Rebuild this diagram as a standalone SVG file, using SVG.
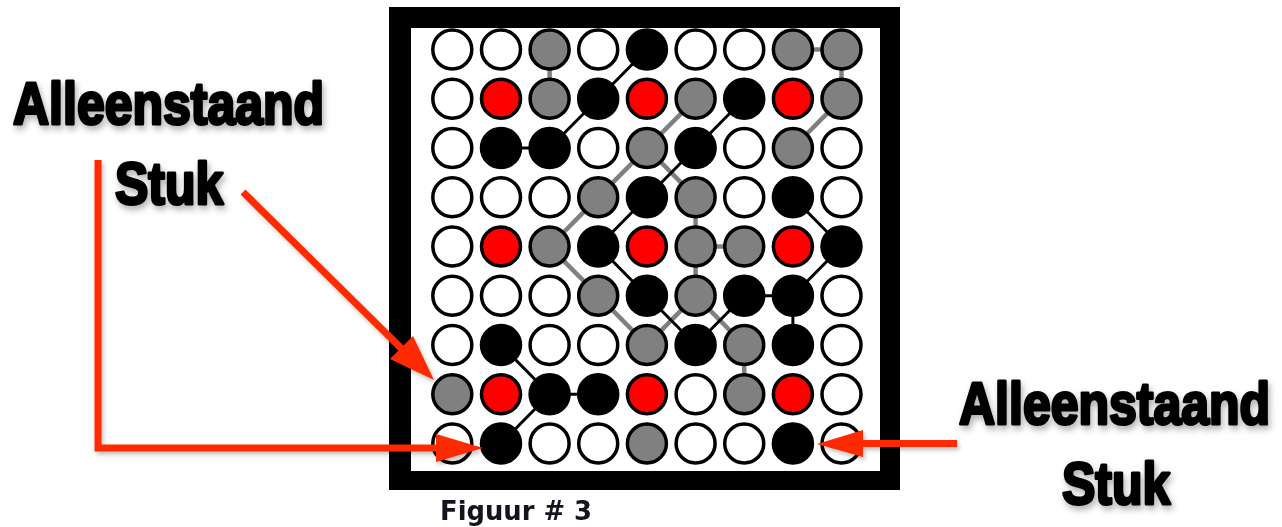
<svg xmlns="http://www.w3.org/2000/svg" width="1282" height="527" viewBox="0 0 1282 527">
<style>
circle{stroke:#000;stroke-width:3.5}
.w{fill:#fff}.r{fill:#ff0000}.g{fill:#808080}.b{fill:#000}
.cg line{stroke:#808080;stroke-width:4.5}
.cb line{stroke:#000;stroke-width:3}
.lbl{font-family:"Liberation Sans",Arial,sans-serif;font-weight:bold;font-size:50px;fill:#000;stroke:#000;stroke-width:2.6;stroke-linejoin:round}
.arr{stroke:#ff2a00;stroke-width:7;fill:none}
.head{fill:#ff2a00}
</style>
<defs>
<filter id="sh" x="-10%" y="-30%" width="120%" height="170%">
<feDropShadow dx="2" dy="4" stdDeviation="3" flood-color="#000" flood-opacity="0.3"/>
</filter>
<filter id="ash" x="-10%" y="-10%" width="130%" height="130%">
<feDropShadow dx="2" dy="3" stdDeviation="2" flood-color="#000" flood-opacity="0.25"/>
</filter>
</defs>
<rect width="1282" height="527" fill="#fff"/>
<g id="board">
<rect x="389" y="7" width="511" height="483" fill="#000"/>
<rect x="411" y="28" width="469" height="443" fill="#fff"/>
</g>
<g id="connectors">
<g class="cg">
<line x1="549.6" y1="49.5" x2="549.6" y2="98.8"/>
<line x1="792.9" y1="49.5" x2="841.5" y2="49.5"/>
<line x1="841.5" y1="49.5" x2="841.5" y2="98.8"/>
<line x1="841.5" y1="98.8" x2="792.9" y2="148"/>
<line x1="695.6" y1="98.8" x2="646.9" y2="148"/>
<line x1="646.9" y1="148" x2="598.2" y2="197.3"/>
<line x1="598.2" y1="197.3" x2="549.6" y2="246.5"/>
<line x1="646.9" y1="148" x2="695.6" y2="197.3"/>
<line x1="695.6" y1="197.3" x2="695.6" y2="246.5"/>
<line x1="695.6" y1="246.5" x2="744.2" y2="246.5"/>
<line x1="549.6" y1="246.5" x2="598.2" y2="295.7"/>
<line x1="598.2" y1="295.7" x2="646.9" y2="345"/>
<line x1="646.9" y1="345" x2="695.6" y2="295.7"/>
<line x1="695.6" y1="246.5" x2="695.6" y2="295.7"/>
<line x1="695.6" y1="295.7" x2="744.2" y2="345"/>
<line x1="744.2" y1="345" x2="744.2" y2="394.2"/>
</g>
<g class="cb">
<line x1="646.9" y1="49.5" x2="598.2" y2="98.8"/>
<line x1="598.2" y1="98.8" x2="549.6" y2="148"/>
<line x1="501" y1="148" x2="549.6" y2="148"/>
<line x1="744.2" y1="98.8" x2="695.6" y2="148"/>
<line x1="695.6" y1="148" x2="646.9" y2="197.3"/>
<line x1="646.9" y1="197.3" x2="598.2" y2="246.5"/>
<line x1="792.9" y1="197.3" x2="841.5" y2="246.5"/>
<line x1="598.2" y1="246.5" x2="646.9" y2="295.7"/>
<line x1="841.5" y1="246.5" x2="792.9" y2="295.7"/>
<line x1="646.9" y1="295.7" x2="695.6" y2="345"/>
<line x1="744.2" y1="295.7" x2="792.9" y2="295.7"/>
<line x1="744.2" y1="295.7" x2="695.6" y2="345"/>
<line x1="792.9" y1="295.7" x2="792.9" y2="345"/>
<line x1="501" y1="345" x2="549.6" y2="394.2"/>
<line x1="549.6" y1="394.2" x2="598.2" y2="394.2"/>
<line x1="549.6" y1="394.2" x2="501" y2="443.5"/>
</g>
</g>
<g id="pieces">
<g id="row0">
<circle id="n-0-0" class="w" cx="452.3" cy="49.5" r="19.5"/>
<circle id="n-0-1" class="w" cx="501" cy="49.5" r="19.5"/>
<circle id="n-0-2" class="g" cx="549.6" cy="49.5" r="19.5"/>
<circle id="n-0-3" class="w" cx="598.2" cy="49.5" r="19.5"/>
<circle id="n-0-4" class="b" cx="646.9" cy="49.5" r="19.5"/>
<circle id="n-0-5" class="w" cx="695.6" cy="49.5" r="19.5"/>
<circle id="n-0-6" class="w" cx="744.2" cy="49.5" r="19.5"/>
<circle id="n-0-7" class="g" cx="792.9" cy="49.5" r="19.5"/>
<circle id="n-0-8" class="g" cx="841.5" cy="49.5" r="19.5"/>
</g>
<g id="row1">
<circle id="n-1-0" class="w" cx="452.3" cy="98.8" r="19.5"/>
<circle id="n-1-1" class="r" cx="501" cy="98.8" r="19.5"/>
<circle id="n-1-2" class="g" cx="549.6" cy="98.8" r="19.5"/>
<circle id="n-1-3" class="b" cx="598.2" cy="98.8" r="19.5"/>
<circle id="n-1-4" class="r" cx="646.9" cy="98.8" r="19.5"/>
<circle id="n-1-5" class="g" cx="695.6" cy="98.8" r="19.5"/>
<circle id="n-1-6" class="b" cx="744.2" cy="98.8" r="19.5"/>
<circle id="n-1-7" class="r" cx="792.9" cy="98.8" r="19.5"/>
<circle id="n-1-8" class="g" cx="841.5" cy="98.8" r="19.5"/>
</g>
<g id="row2">
<circle id="n-2-0" class="w" cx="452.3" cy="148" r="19.5"/>
<circle id="n-2-1" class="b" cx="501" cy="148" r="19.5"/>
<circle id="n-2-2" class="b" cx="549.6" cy="148" r="19.5"/>
<circle id="n-2-3" class="w" cx="598.2" cy="148" r="19.5"/>
<circle id="n-2-4" class="g" cx="646.9" cy="148" r="19.5"/>
<circle id="n-2-5" class="b" cx="695.6" cy="148" r="19.5"/>
<circle id="n-2-6" class="w" cx="744.2" cy="148" r="19.5"/>
<circle id="n-2-7" class="g" cx="792.9" cy="148" r="19.5"/>
<circle id="n-2-8" class="w" cx="841.5" cy="148" r="19.5"/>
</g>
<g id="row3">
<circle id="n-3-0" class="w" cx="452.3" cy="197.3" r="19.5"/>
<circle id="n-3-1" class="w" cx="501" cy="197.3" r="19.5"/>
<circle id="n-3-2" class="w" cx="549.6" cy="197.3" r="19.5"/>
<circle id="n-3-3" class="g" cx="598.2" cy="197.3" r="19.5"/>
<circle id="n-3-4" class="b" cx="646.9" cy="197.3" r="19.5"/>
<circle id="n-3-5" class="g" cx="695.6" cy="197.3" r="19.5"/>
<circle id="n-3-6" class="w" cx="744.2" cy="197.3" r="19.5"/>
<circle id="n-3-7" class="b" cx="792.9" cy="197.3" r="19.5"/>
<circle id="n-3-8" class="w" cx="841.5" cy="197.3" r="19.5"/>
</g>
<g id="row4">
<circle id="n-4-0" class="w" cx="452.3" cy="246.5" r="19.5"/>
<circle id="n-4-1" class="r" cx="501" cy="246.5" r="19.5"/>
<circle id="n-4-2" class="g" cx="549.6" cy="246.5" r="19.5"/>
<circle id="n-4-3" class="b" cx="598.2" cy="246.5" r="19.5"/>
<circle id="n-4-4" class="r" cx="646.9" cy="246.5" r="19.5"/>
<circle id="n-4-5" class="g" cx="695.6" cy="246.5" r="19.5"/>
<circle id="n-4-6" class="g" cx="744.2" cy="246.5" r="19.5"/>
<circle id="n-4-7" class="r" cx="792.9" cy="246.5" r="19.5"/>
<circle id="n-4-8" class="b" cx="841.5" cy="246.5" r="19.5"/>
</g>
<g id="row5">
<circle id="n-5-0" class="w" cx="452.3" cy="295.7" r="19.5"/>
<circle id="n-5-1" class="w" cx="501" cy="295.7" r="19.5"/>
<circle id="n-5-2" class="w" cx="549.6" cy="295.7" r="19.5"/>
<circle id="n-5-3" class="g" cx="598.2" cy="295.7" r="19.5"/>
<circle id="n-5-4" class="b" cx="646.9" cy="295.7" r="19.5"/>
<circle id="n-5-5" class="g" cx="695.6" cy="295.7" r="19.5"/>
<circle id="n-5-6" class="b" cx="744.2" cy="295.7" r="19.5"/>
<circle id="n-5-7" class="b" cx="792.9" cy="295.7" r="19.5"/>
<circle id="n-5-8" class="w" cx="841.5" cy="295.7" r="19.5"/>
</g>
<g id="row6">
<circle id="n-6-0" class="w" cx="452.3" cy="345" r="19.5"/>
<circle id="n-6-1" class="b" cx="501" cy="345" r="19.5"/>
<circle id="n-6-2" class="w" cx="549.6" cy="345" r="19.5"/>
<circle id="n-6-3" class="w" cx="598.2" cy="345" r="19.5"/>
<circle id="n-6-4" class="g" cx="646.9" cy="345" r="19.5"/>
<circle id="n-6-5" class="b" cx="695.6" cy="345" r="19.5"/>
<circle id="n-6-6" class="g" cx="744.2" cy="345" r="19.5"/>
<circle id="n-6-7" class="b" cx="792.9" cy="345" r="19.5"/>
<circle id="n-6-8" class="w" cx="841.5" cy="345" r="19.5"/>
</g>
<g id="row7">
<circle id="n-7-0" class="g" cx="452.3" cy="394.2" r="19.5"/>
<circle id="n-7-1" class="r" cx="501" cy="394.2" r="19.5"/>
<circle id="n-7-2" class="b" cx="549.6" cy="394.2" r="19.5"/>
<circle id="n-7-3" class="b" cx="598.2" cy="394.2" r="19.5"/>
<circle id="n-7-4" class="r" cx="646.9" cy="394.2" r="19.5"/>
<circle id="n-7-5" class="w" cx="695.6" cy="394.2" r="19.5"/>
<circle id="n-7-6" class="g" cx="744.2" cy="394.2" r="19.5"/>
<circle id="n-7-7" class="r" cx="792.9" cy="394.2" r="19.5"/>
<circle id="n-7-8" class="w" cx="841.5" cy="394.2" r="19.5"/>
</g>
<g id="row8">
<circle id="n-8-0" class="w" cx="452.3" cy="443.5" r="19.5"/>
<circle id="n-8-1" class="b" cx="501" cy="443.5" r="19.5"/>
<circle id="n-8-2" class="w" cx="549.6" cy="443.5" r="19.5"/>
<circle id="n-8-3" class="w" cx="598.2" cy="443.5" r="19.5"/>
<circle id="n-8-4" class="g" cx="646.9" cy="443.5" r="19.5"/>
<circle id="n-8-5" class="w" cx="695.6" cy="443.5" r="19.5"/>
<circle id="n-8-6" class="w" cx="744.2" cy="443.5" r="19.5"/>
<circle id="n-8-7" class="b" cx="792.9" cy="443.5" r="19.5"/>
<circle id="n-8-8" class="w" cx="841.5" cy="443.5" r="19.5"/>
</g>
</g>
<g id="arrows" filter="url(#ash)">
<g id="arrow-diag">
<line class="arr" x1="243" y1="192" x2="405" y2="352"/>
<polygon class="head" points="413,336 434,380 390,359"/>
</g>
<g id="arrow-L">
<polyline class="arr" points="98,160 98,448 440,448"/>
<polygon class="head" points="436,434 483,448 436,462"/>
</g>
<g id="arrow-right">
<line class="arr" x1="957" y1="443.5" x2="860" y2="443.5"/>
<polygon class="head" points="863,430 817,444 863,457"/>
</g>
</g>
<g id="labels" filter="url(#sh)">
<text class="lbl" transform="translate(13,124) scale(1,1.17)" x="0" y="0">Alleenstaand</text>
<text class="lbl" transform="translate(115,204) scale(1,1.17)" x="0" y="0">Stuk</text>
<text class="lbl" transform="translate(959,424) scale(1,1.17)" x="0" y="0">Alleenstaand</text>
<text class="lbl" transform="translate(1062,504) scale(1,1.17)" x="0" y="0">Stuk</text>
</g>
<text id="caption" x="440" y="520" font-family="'DejaVu Sans',Verdana,sans-serif" font-weight="bold" font-size="27" fill="#14141e" textLength="152" lengthAdjust="spacingAndGlyphs">Figuur # 3</text>
</svg>
